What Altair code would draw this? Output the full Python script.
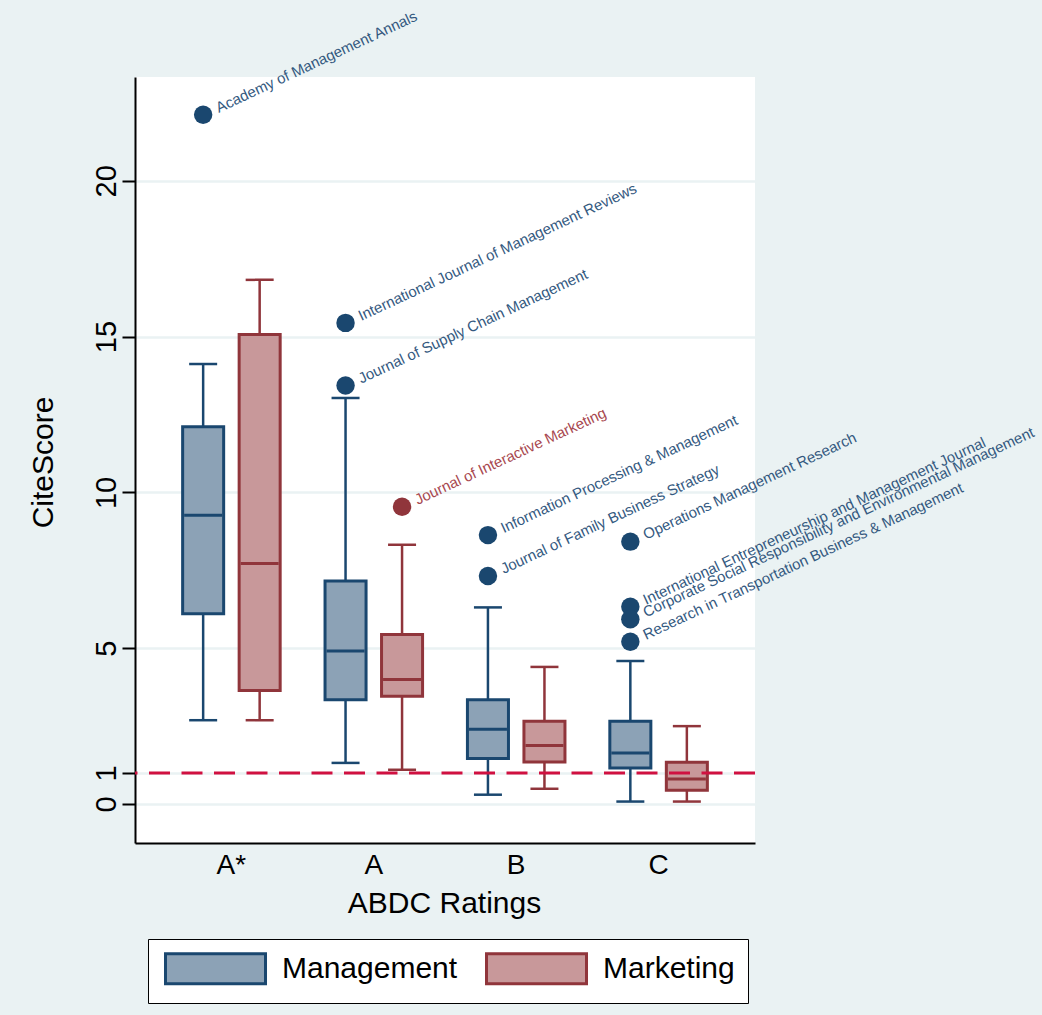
import altair as alt
import pandas as pd

# ABDC rating categories and journal fields
ratings = ["A*", "A", "B", "C"]
groups = ["Management", "Marketing"]

# Box statistics (CiteScore) per rating, in the order of `ratings`
mgmt_lower = [2.69, 1.32, 0.30, 0.08]
mgmt_q1 = [6.11, 3.35, 1.46, 1.16]
mgmt_median = [9.27, 4.91, 2.40, 1.64]
mgmt_q3 = [12.11, 7.16, 3.35, 2.66]
mgmt_upper = [14.12, 13.03, 6.31, 4.59]

mkt_lower = [2.69, 1.10, 0.49, 0.08]
mkt_q1 = [3.64, 3.46, 1.35, 0.44]
mkt_median = [7.72, 4.00, 1.88, 0.80]
mkt_q3 = [15.07, 5.44, 2.66, 1.34]
mkt_upper = [16.82, 8.32, 4.40, 2.50]

# Outlying journals
outlier_group = ["Management", "Management", "Management", "Marketing",
                 "Management", "Management", "Management", "Management",
                 "Management", "Management"]
outlier_rating = ["A*", "A", "A", "A", "B", "B", "C", "C", "C", "C"]
outlier_value = [22.12, 15.44, 13.43, 9.54, 8.63, 7.32, 8.42, 6.33, 5.93, 5.21]
outlier_name = [
    "Academy of Management Annals",
    "International Journal of Management Reviews",
    "Journal of Supply Chain Management",
    "Journal of Interactive Marketing",
    "Information Processing & Management",
    "Journal of Family Business Strategy",
    "Operations Management Research",
    "International Entrepreneurship and Management Journal",
    "Corporate Social Responsibility and Environmental Management",
    "Research in Transportation Business & Management",
]

threshold = [1]

boxes = pd.DataFrame({
    "rating": ratings * 2,
    "group": ["Management"] * 4 + ["Marketing"] * 4,
    "lower": mgmt_lower + mkt_lower,
    "q1": mgmt_q1 + mkt_q1,
    "median": mgmt_median + mkt_median,
    "q3": mgmt_q3 + mkt_q3,
    "upper": mgmt_upper + mkt_upper,
})
outliers = pd.DataFrame({
    "rating": outlier_rating,
    "group": outlier_group,
    "value": outlier_value,
    "name": outlier_name,
})

FONT = "Liberation Sans"
NAVY = "#1A476F"
MAROON = "#90353B"
BG = "#EAF2F3"

x_enc = alt.X(
    "rating:N",
    sort=ratings,
    scale=alt.Scale(paddingInner=0, paddingOuter=0.177),
    axis=alt.Axis(
        title="ABDC Ratings", labelAngle=0, ticks=False, domainColor="black",
        domainWidth=2, labelFontSize=28, labelPadding=8, labelColor="black",
        titleFontSize=30, titleFontWeight="normal", titleColor="black",
        titleX=309, titleY=60, titleBaseline="middle", titleAlign="center",
        grid=False, labelFont=FONT, titleFont=FONT,
    ),
)
xoff_enc = alt.XOffset(
    "group:N", sort=groups,
    scale=alt.Scale(domain=groups, paddingInner=0.274, paddingOuter=0.397),
)
y_scale = alt.Scale(domain=[-1.25, 23.33], nice=False, zero=False)
y_axis = alt.Axis(
    title="CiteScore", values=[0, 1, 5, 10, 15, 20], labelAngle=270,
    labelAlign="center", labelBaseline="alphabetic", labelFontSize=29,
    labelPadding=7, labelColor="black", tickSize=13, tickWidth=2,
    tickColor="black", domainColor="black", domainWidth=2,
    grid=True, gridColor=BG, gridWidth=2.5,
    titleFontSize=30, titleFontWeight="normal", titleColor="black",
    titleAngle=270, titleX=-92, titleY=385, titleAlign="center",
    titleBaseline="middle", labelFont=FONT, titleFont=FONT,
)


def y_enc(field):
    return alt.Y(field, scale=y_scale, axis=y_axis, title="CiteScore")


def by_group(management, marketing):
    return alt.condition(alt.datum.group == "Management",
                         alt.value(management), alt.value(marketing))


fill_scale = alt.Scale(domain=groups, range=["#8CA2B6", "#C8989A"])
line_scale = alt.Scale(domain=groups, range=[NAVY, MAROON])
# wide swatch symbol (100 x 30 px at symbolSize 900)
legend = alt.Legend(
    title=None, orient="none", legendX=13, legendY=862, direction="horizontal",
    fillColor="white", strokeColor="black", padding=13,
    labelFontSize=30, labelFont=FONT, labelColor="black", labelOffset=88,
    labelLimit=400, columnPadding=22,
    symbolType="M-0.8,-1H5.867V1H-0.8Z", symbolSize=900,
    symbolStrokeWidth=3, symbolOpacity=1,
)
line_color = by_group(NAVY, MAROON)

base = alt.Chart(boxes).encode(x=x_enc, xOffset=xoff_enc)

whisker_lo = base.mark_rule(strokeWidth=2.5, opacity=1).encode(
    y=y_enc("lower:Q"), y2="q1:Q", color=line_color,
)
whisker_hi = base.mark_rule(strokeWidth=2.5, opacity=1).encode(
    y=y_enc("q3:Q"), y2="upper:Q", color=line_color,
)
cap_lo = base.mark_tick(size=28, thickness=2.5, opacity=1).encode(
    y=y_enc("lower:Q"), color=line_color,
)
cap_hi = base.mark_tick(size=28, thickness=2.5, opacity=1).encode(
    y=y_enc("upper:Q"), color=line_color,
)
box = base.mark_bar(strokeWidth=3, opacity=1).encode(
    y=y_enc("q1:Q"), y2="q3:Q",
    fill=alt.Fill("group:N", scale=fill_scale, legend=legend),
    stroke=alt.Stroke("group:N", scale=line_scale, legend=legend),
)
median = base.mark_tick(size=38, thickness=3, opacity=1).encode(
    y=y_enc("median:Q"), color=line_color,
)

ref_line = alt.Chart(pd.DataFrame({"y": threshold})).mark_rule(
    color="#D01040", strokeWidth=3, strokeDash=[21, 11.5], opacity=1
).encode(y=y_enc("y:Q"))

pts_base = alt.Chart(outliers).encode(
    x=x_enc, xOffset=xoff_enc, y=y_enc("value:Q"),
)
points = pts_base.mark_circle(size=340, opacity=1).encode(color=line_color)
labels = pts_base.mark_text(
    angle=335, align="left", baseline="middle", dx=15, fontSize=15, font=FONT
).encode(
    text="name:N",
    color=by_group("#34597F", "#A8484F"),
)

chart = alt.layer(
    whisker_lo, whisker_hi, cap_lo, cap_hi, box, median, ref_line, points, labels
).properties(
    width=620, height=766,
    background=BG,
    padding={"left": 135, "top": 77, "right": 287, "bottom": 172},
    autosize=alt.AutoSizeParams(type="none"),
).configure_view(
    fill="white", stroke=None
)

chart.save("out.html", embed_options={"renderer": "svg", "actions": False})
